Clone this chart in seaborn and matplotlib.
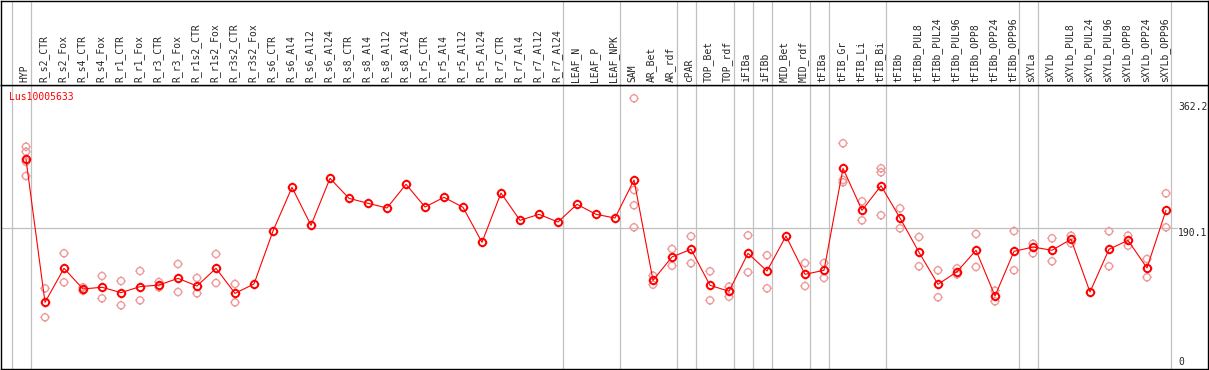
import pandas as pd
import matplotlib.pyplot as plt
from matplotlib.path import Path
from matplotlib.transforms import blended_transform_factory
import seaborn as sns

gene = "Lus10005633"

samples = [
    "HYP",
    "R_s2_CTR", "R_s2_Fox", "R_s4_CTR", "R_s4_Fox", "R_r1_CTR", "R_r1_Fox",
    "R_r3_CTR", "R_r3_Fox", "R_r1s2_CTR", "R_r1s2_Fox", "R_r3s2_CTR", "R_r3s2_Fox",
    "R_s6_CTR", "R_s6_Al4", "R_s6_Al12", "R_s6_Al24",
    "R_s8_CTR", "R_s8_Al4", "R_s8_Al12", "R_s8_Al24",
    "R_r5_CTR", "R_r5_Al4", "R_r5_Al12", "R_r5_Al24",
    "R_r7_CTR", "R_r7_Al4", "R_r7_Al12", "R_r7_Al24",
    "LEAF_N", "LEAF_P", "LEAF_NPK",
    "SAM", "AR_Bet", "AR_rdf", "cPAR", "TOP_Bet", "TOP_rdf",
    "iFIBa", "iFIBb", "MID_Bet", "MID_rdf", "tFIBa",
    "tFIB_Gr", "tFIB_Li", "tFIB_Bi", "tFIBb",
    "tFIBb_PUL8", "tFIBb_PUL24", "tFIBb_PUL96",
    "tFIBb_OPP8", "tFIBb_OPP24", "tFIBb_OPP96",
    "sXYLa", "sXYLb",
    "sXYLb_PUL8", "sXYLb_PUL24", "sXYLb_PUL96",
    "sXYLb_OPP8", "sXYLb_OPP24", "sXYLb_OPP96",
]

# mean expression per sample
means = [
    287.5,
    84.6, 132.9, 103.6, 106.0, 98.4, 106.9, 109.2, 118.7, 107.8, 132.9, 97.4, 110.7,
    185.8, 247.8, 193.9, 260.6, 232.2, 225.1, 218.5, 252.1,
    219.9, 233.6, 219.5, 169.8, 239.7, 201.0, 209.5, 198.6,
    223.7, 209.5, 204.3,
    258.2, 115.9, 149.0, 159.9, 108.8, 100.3,
    154.2, 129.1, 178.7, 124.4, 130.1,
    274.8, 215.2, 250.1, 204.3,
    155.6, 110.2, 128.1, 158.5, 93.6, 157.0,
    163.1, 158.5,
    174.1, 99.3, 159.9, 172.6, 133.4, 215.2,
]

# individual replicates (empty = single value)
reps = [
    [305.4, 298.3, 284.0, 263.9],
    [104.5, 63.4], [154.2, 113.0], [106.0, 101.0], [122.0, 90.3],
    [114.9, 80.4], [129.1, 87.5], [113.5, 106.0], [139.0, 99.3],
    [119.2, 97.4], [153.2, 112.1], [110.7, 84.6], [],
    [], [], [], [], [], [], [], [],
    [], [], [], [], [], [], [], [],
    [], [], [],
    [374.1, 244.0, 222.3, 191.1], [122.4, 109.7], [160.3, 136.6],
    [178.3, 140.0], [128.7, 87.5], [106.9, 92.6],
    [179.7, 127.3], [151.4, 104.5], [], [140.4, 107.8], [140.4, 119.2],
    [310.3, 258.2, 254.9], [228.0, 201.0], [274.8, 269.1, 208.1], [218.0, 189.7],
    [177.3, 135.8], [130.1, 91.8], [132.9, 124.4],
    [181.6, 134.8], [101.2, 86.1], [185.8, 130.1],
    [167.8, 154.2], [175.5, 142.9],
    [179.2, 168.4], [], [185.4, 135.8], [179.2, 165.0], [146.1, 120.2], [239.3, 191.1],
]

# group separators drawn after these sample indexes
sep_after = [-1, 0, 28, 31, 34, 35, 37, 38, 39, 41, 42, 45, 52, 53, 60]
ref_values = [362.2, 190.1, 0]

mean_df = pd.DataFrame({"pos": range(len(samples)), "value": means})
rep_df = pd.DataFrame(
    [(i, v) for i, r in enumerate(reps) for v in r], columns=["pos", "value"]
)

sns.set_style("white")
plt.rcParams["font.family"] = ["DejaVu Sans Mono"]

W, H = 1209, 370
fig = plt.figure(figsize=(W / 100, H / 100), dpi=100)
ax = fig.add_axes([1 / W, 1 / H, 1207 / W, 284 / H])
head = fig.add_axes([1 / W, 285 / H, 1207 / W, 84.5 / H], sharex=ax)

step = 19.0
ax.set_xlim(-25 / step, 1182 / step)
ax.set_ylim(-7 / 0.7049, 277 / 0.7049)
head.set_ylim(0, 1)

grey = "#c0c0c0"
pink = "#ef9a9a"

# ring marker with small ticks
ring = Path.make_compound_path(
    Path.circle((0, 0), 1.0),
    Path([(0, 1.0), (0, 1.3)]),
    Path([(0, -1.0), (0, -1.3)]),
    Path([(1.0, 0), (1.3, 0)]),
    Path([(-1.0, 0), (-1.3, 0)]),
)

for s in sep_after:
    ax.axvline(s + 5 / step, color=grey, lw=0.9, zorder=0)
    head.axvline(s + 5 / step, color=grey, lw=0.9, zorder=0)

ax.axhline(190.1, xmax=1176 / 1207, color=grey, lw=0.9, zorder=0)

sns.scatterplot(data=rep_df, x="pos", y="value", ax=ax, marker=ring, s=44,
                color=pink, linewidth=1.0, zorder=2)
coll = ax.collections[-1]
coll.set_facecolor("none")
coll.set_edgecolor(pink)

sns.lineplot(data=mean_df, x="pos", y="value", ax=ax, color="red", lw=0.8,
             marker=ring, markersize=6.8, mfc="none", mec="red", mew=1.4,
             zorder=3)

trans = blended_transform_factory(head.transData, head.transAxes)
for i, name in enumerate(samples):
    head.text(i - 1.5 / step, 3 / 84.5, name, transform=trans, rotation=90,
              ha="center", va="bottom", fontsize=7)

vx = len(samples) - 1 + 12 / step
for v in ref_values:
    ax.text(vx, v, f"{v:g}", fontsize=7, ha="left",
            va="top" if v == 190.1 else "center")

ax.text(8 / 1207, 272.5 / 284, gene, transform=ax.transAxes, color="red",
        fontsize=7, va="center")

for a in (ax, head):
    a.set_xticks([])
    a.set_yticks([])
    a.set_xlabel("")
    a.set_ylabel("")
    for sp in a.spines.values():
        sp.set_color("black")
        sp.set_linewidth(1.0)

fig.savefig("out.png", dpi=100)
